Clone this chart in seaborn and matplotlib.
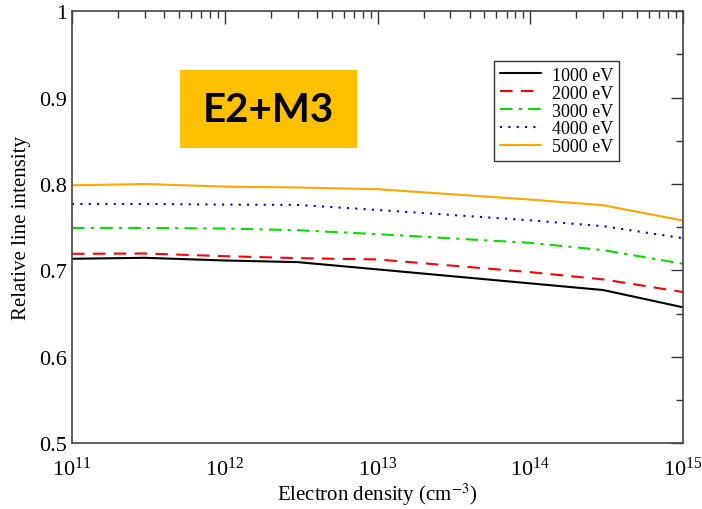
import numpy as np
import pandas as pd
import matplotlib
matplotlib.use("Agg")
import matplotlib.pyplot as plt
import seaborn as sns
from matplotlib.ticker import LogLocator, MultipleLocator, FuncFormatter
from matplotlib.patches import Rectangle

# Data
density = [1e11, 3e11, 1e12, 3e12, 1e13, 1e14, 3e14, 1e15]
int_1000 = [0.7135, 0.7146, 0.7115, 0.7096, 0.7012, 0.6850, 0.6773, 0.6573]
int_2000 = [0.7192, 0.7196, 0.7165, 0.7142, 0.7127, 0.6980, 0.6896, 0.6750]
int_3000 = [0.7492, 0.7492, 0.7485, 0.7465, 0.7420, 0.7319, 0.7235, 0.7077]
int_4000 = [0.7769, 0.7769, 0.7762, 0.7758, 0.7700, 0.7580, 0.7512, 0.7373]
int_5000 = [0.7985, 0.8000, 0.7970, 0.7960, 0.7940, 0.7820, 0.7754, 0.7577]
labels = ["1000 eV", "2000 eV", "3000 eV", "4000 eV", "5000 eV"]

series = [int_1000, int_2000, int_3000, int_4000, int_5000]
colors = ["black", "red", "#00dd00", "blue", "orange"]
styles = ["-", (0, (6, 4)), (0, (6, 3, 1.5, 3)), (0, (1, 3)), "-"]

sns.set_style("white")
plt.rcParams["font.family"] = ["Liberation Serif", "DejaVu Serif"]
plt.rcParams["mathtext.fontset"] = "stix"

fig = plt.figure(figsize=(7.02, 5.10), dpi=100)
ax = fig.add_axes([0.1026, 0.129, 0.8704, 0.847])

for vals, col, ls, lab in zip(series, colors, styles, labels):
    sns.lineplot(x=density, y=vals, color=col, linestyle=ls, linewidth=1.5,
                 label=lab, ax=ax)

ax.set_xscale("log")
ax.set_xlim(1e11, 1e15)
ax.set_ylim(0.5, 1.0)
ax.yaxis.set_major_locator(MultipleLocator(0.1))
ax.yaxis.set_minor_locator(MultipleLocator(0.05))
ax.yaxis.set_major_formatter(FuncFormatter(lambda v, p: "1" if abs(v - 1) < 1e-6 else f"{v:.1f}"))
ax.xaxis.set_major_locator(LogLocator(base=10, numticks=10))
ax.xaxis.set_minor_locator(LogLocator(base=10, subs=np.arange(2, 10), numticks=10))

ax.tick_params(which="both", direction="in", top=True, right=True,
               colors="#333333", labelcolor="black", labelsize=16)
ax.tick_params(which="major", length=9, width=1)
ax.tick_params(which="minor", length=5, width=1)
ax.tick_params(axis="x", pad=10, labelsize=16)
for s in ax.spines.values():
    s.set_color("#444444")
    s.set_linewidth(1.2)

ax.set_xlabel("Electron density (cm$^{-3}$)", fontsize=15, labelpad=0, color="black")
ax.set_ylabel("Relative line intensity", fontsize=15, labelpad=6, color="black")

leg = ax.legend(loc="upper right", bbox_to_anchor=(0.895, 0.884), fontsize=13,
                frameon=True, fancybox=False, edgecolor="black",
                handlelength=2.3, borderpad=0.3, labelspacing=0.05,
                handletextpad=0.6, borderaxespad=0)
leg.get_frame().set_linewidth(1.0)
for t in leg.get_texts():
    t.set_color("black")

# highlighted label box
fig.patches.append(Rectangle((180 / 702, 1 - 149 / 510), 177 / 702, 78 / 510,
                             transform=fig.transFigure, facecolor="#FFC000",
                             edgecolor="none", zorder=5))
fig.text(268.5 / 702, 1 - 110 / 510, "E2+M3", ha="center", va="center",
         fontsize=29, fontweight="bold", color="black",
         family=["Lato", "DejaVu Sans"], zorder=6)

fig.savefig("out.png", dpi=100)
